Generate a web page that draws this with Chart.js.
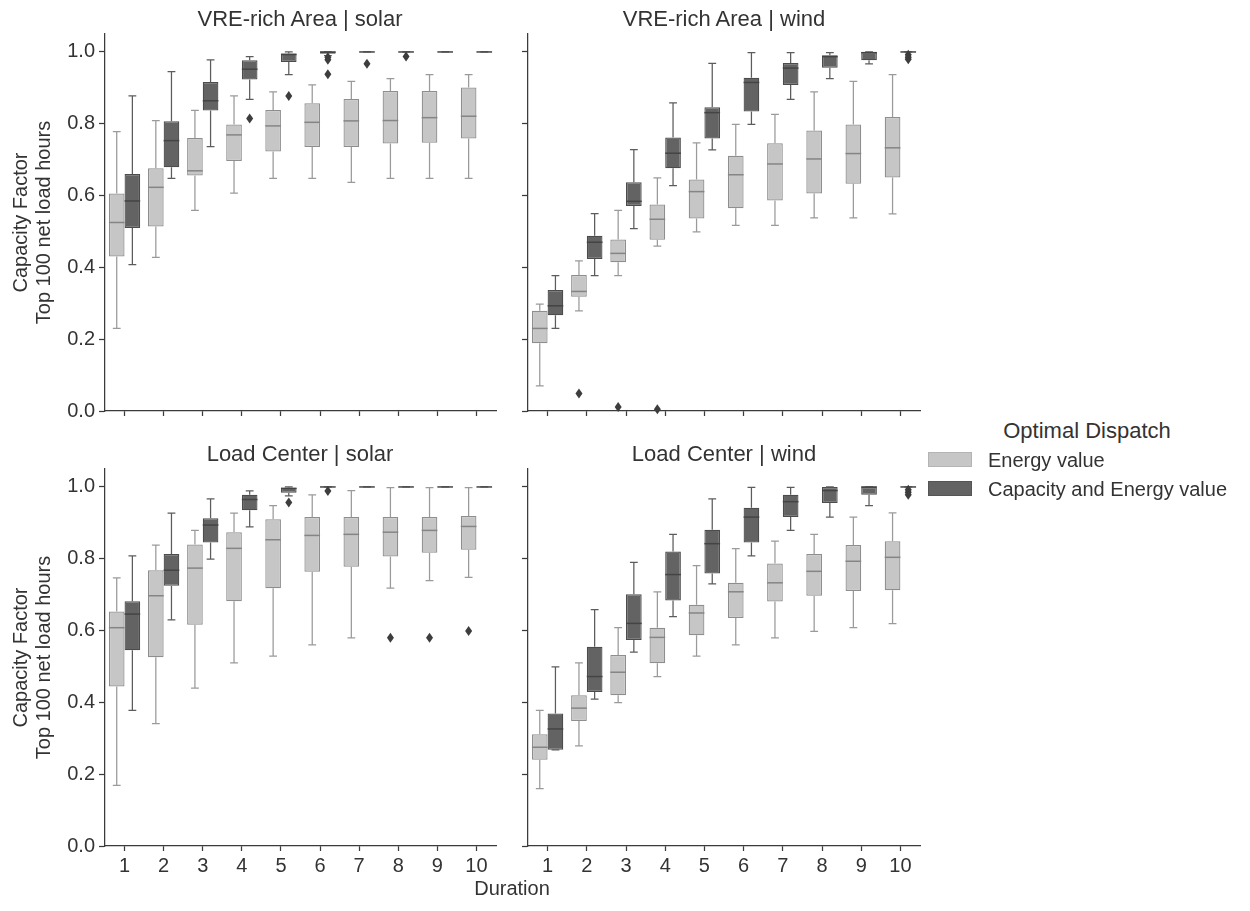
<!DOCTYPE html>
<html>
<head>
<meta charset="utf-8">
<script src="https://cdn.jsdelivr.net/npm/chart.js@4.4.0/dist/chart.umd.min.js"></script>
<style>
    body { margin: 0; background: #fff; width: 1250px; height: 911px; position: relative; overflow: hidden;
           font-family: "Liberation Sans", Arial, sans-serif; color: #333; }
    canvas { position: absolute; }
    .txt { position: absolute; white-space: nowrap; }
    .panel-title { font-size: 22px; line-height: 22px; transform: translateX(-50%); }
    .legend-title { font-size: 22px; line-height: 22px; left: 1087px; top: 420px; transform: translateX(-50%); }
    .legend-label { font-size: 20px; line-height: 20px; left: 988px; }
    .patch { position: absolute; left: 928px; width: 44px; height: 15px; box-sizing: border-box; }
</style>
</head>
<body>
<canvas id="vreSolar" width="505" height="441" style="left:0px;top:0px"></canvas>
<canvas id="vreWind" width="420" height="441" style="left:505px;top:0px"></canvas>
<canvas id="loadSolar" width="505" height="451" style="left:0px;top:435px"></canvas>
<canvas id="loadWind" width="420" height="451" style="left:505px;top:435px"></canvas>

<div class="txt panel-title" style="left:300px;top:8px">VRE-rich Area | solar</div>
<div class="txt panel-title" style="left:724px;top:8px">VRE-rich Area | wind</div>
<div class="txt panel-title" style="left:300px;top:443px">Load Center | solar</div>
<div class="txt panel-title" style="left:724px;top:443px">Load Center | wind</div>
<div class="txt" style="font-size:20px;line-height:20px;left:512px;top:878px;transform:translateX(-50%)">Duration</div>

<div class="txt legend-title">Optimal Dispatch</div>
<div class="patch" style="top:452px;background:#c6c6c6;border:1px solid #b4b4b4"></div>
<div class="txt legend-label" style="top:450px">Energy value</div>
<div class="patch" style="top:481px;background:#636363;border:1px solid #555"></div>
<div class="txt legend-label" style="top:479px">Capacity and Energy value</div>

<script>
// Categories and ticks
const durations = ['1', '2', '3', '4', '5', '6', '7', '8', '9', '10'];
const yTicks = [0, 0.2, 0.4, 0.6, 0.8, 1.0];

// Box stats per duration: [lower whisker, q1, median, q3, upper whisker]
const vreSolarEnergy = [
    [0.230, 0.430, 0.525, 0.606, 0.778], [0.428, 0.514, 0.623, 0.676, 0.809],
    [0.559, 0.656, 0.669, 0.760, 0.837], [0.607, 0.696, 0.769, 0.798, 0.878],
    [0.648, 0.723, 0.794, 0.838, 0.889], [0.648, 0.735, 0.804, 0.857, 0.908],
    [0.637, 0.735, 0.808, 0.869, 0.918], [0.648, 0.745, 0.809, 0.891, 0.926],
    [0.648, 0.747, 0.817, 0.891, 0.937], [0.648, 0.759, 0.821, 0.901, 0.937]
];
const vreSolarCapacity = [
    [0.408, 0.510, 0.585, 0.660, 0.878], [0.648, 0.679, 0.753, 0.807, 0.945],
    [0.736, 0.837, 0.864, 0.916, 0.978], [0.868, 0.923, 0.952, 0.977, 0.987],
    [0.937, 0.972, 0.993, 0.996, 1.000], [0.990, 0.995, 1.000, 1.000, 1.000],
    [1, 1, 1, 1, 1], [1, 1, 1, 1, 1], [1, 1, 1, 1, 1], [1, 1, 1, 1, 1]
];
const vreWindEnergy = [
    [0.070, 0.189, 0.230, 0.279, 0.298], [0.279, 0.318, 0.333, 0.379, 0.418],
    [0.377, 0.414, 0.439, 0.478, 0.559], [0.459, 0.477, 0.534, 0.575, 0.649],
    [0.499, 0.536, 0.611, 0.645, 0.747], [0.517, 0.565, 0.658, 0.711, 0.798],
    [0.517, 0.586, 0.688, 0.746, 0.826], [0.538, 0.606, 0.702, 0.781, 0.889],
    [0.538, 0.633, 0.717, 0.798, 0.918], [0.549, 0.650, 0.733, 0.819, 0.937]
];
const vreWindCapacity = [
    [0.230, 0.267, 0.293, 0.337, 0.377], [0.377, 0.423, 0.470, 0.488, 0.550],
    [0.508, 0.571, 0.584, 0.637, 0.728], [0.628, 0.676, 0.718, 0.762, 0.858],
    [0.727, 0.759, 0.831, 0.846, 0.968], [0.798, 0.834, 0.915, 0.928, 0.998],
    [0.868, 0.908, 0.955, 0.969, 0.998], [0.926, 0.956, 0.987, 0.991, 0.998],
    [0.967, 0.977, 0.998, 1.000, 1.000], [1, 1, 1, 1, 1]
];
const loadSolarEnergy = [
    [0.169, 0.444, 0.608, 0.653, 0.747], [0.341, 0.526, 0.697, 0.768, 0.838],
    [0.440, 0.616, 0.774, 0.840, 0.879], [0.510, 0.682, 0.829, 0.874, 0.927],
    [0.529, 0.718, 0.853, 0.910, 0.948], [0.560, 0.764, 0.865, 0.916, 0.978],
    [0.580, 0.778, 0.868, 0.916, 0.990], [0.718, 0.806, 0.874, 0.916, 0.998],
    [0.739, 0.817, 0.879, 0.916, 0.998], [0.748, 0.825, 0.890, 0.919, 0.998]
];
const loadSolarCapacity = [
    [0.378, 0.545, 0.646, 0.682, 0.808], [0.630, 0.725, 0.768, 0.813, 0.927],
    [0.799, 0.845, 0.894, 0.913, 0.967], [0.889, 0.935, 0.965, 0.978, 0.989],
    [0.975, 0.984, 0.996, 0.998, 1.000], [1, 1, 1, 1, 1],
    [1, 1, 1, 1, 1], [1, 1, 1, 1, 1], [1, 1, 1, 1, 1], [1, 1, 1, 1, 1]
];
const loadWindEnergy = [
    [0.160, 0.240, 0.275, 0.311, 0.378], [0.279, 0.348, 0.384, 0.420, 0.510],
    [0.399, 0.420, 0.484, 0.532, 0.608], [0.472, 0.509, 0.581, 0.608, 0.708],
    [0.529, 0.587, 0.649, 0.672, 0.781], [0.560, 0.635, 0.708, 0.733, 0.828],
    [0.580, 0.681, 0.733, 0.787, 0.849], [0.598, 0.697, 0.765, 0.813, 0.868],
    [0.608, 0.710, 0.793, 0.838, 0.916], [0.619, 0.712, 0.804, 0.849, 0.928]
];
const loadWindCapacity = [
    [0.268, 0.268, 0.326, 0.369, 0.499], [0.409, 0.429, 0.472, 0.555, 0.658],
    [0.540, 0.574, 0.620, 0.701, 0.790], [0.639, 0.684, 0.756, 0.820, 0.868],
    [0.730, 0.759, 0.842, 0.881, 0.967], [0.808, 0.845, 0.916, 0.942, 0.999],
    [0.879, 0.916, 0.959, 0.978, 0.999], [0.916, 0.955, 0.990, 1.000, 1.000],
    [0.948, 0.978, 1.000, 1.000, 1.000], [1, 1, 1, 1, 1]
];

// Outliers: [duration index, value]
const vreSolarEnergyOut = [];
const vreSolarCapacityOut = [[3, 0.815], [4, 0.877], [5, 0.985], [5, 0.978], [5, 0.938], [6, 0.967], [7, 0.987]];
const vreWindEnergyOut = [[1, 0.049], [2, 0.011], [3, 0.005]];
const vreWindCapacityOut = [[9, 0.992], [9, 0.985], [9, 0.980]];
const loadSolarEnergyOut = [[7, 0.580], [8, 0.580], [9, 0.599]];
const loadSolarCapacityOut = [[4, 0.957], [5, 0.989]];
const loadWindEnergyOut = [];
const loadWindCapacityOut = [[9, 0.992], [9, 0.985], [9, 0.978]];

// Styling
const FONT = '"Liberation Sans", Arial, sans-serif';
const AXIS_COLOR = '#3b3b3b';
const TEXT_COLOR = '#333';
const SERIES_STYLE = [
    { fill: '#c6c6c6', edge: '#8e8e8e', whisker: '#9a9a9a', median: '#858585' },
    { fill: '#636363', edge: '#4c4c4c', whisker: '#5c5c5c', median: '#444444' }
];

// Whiskers, caps, medians and outliers on top of the floating bars
const boxPlugin = {
    id: 'boxWhiskers',
    afterDatasetsDraw(chart) {
        const ctx = chart.ctx;
        const ys = chart.scales.y;
        chart.data.datasets.forEach((ds, i) => {
            const meta = chart.getDatasetMeta(i);
            const style = SERIES_STYLE[i];
            ctx.save();
            meta.data.forEach((bar, j) => {
                const [lo, q1, med, q3, hi] = ds.stats[j];
                const x = bar.x, w = bar.width;
                const yLo = ys.getPixelForValue(lo), yQ1 = ys.getPixelForValue(q1);
                const yMed = ys.getPixelForValue(med), yQ3 = ys.getPixelForValue(q3);
                const yHi = ys.getPixelForValue(hi);

                ctx.strokeStyle = style.whisker;
                ctx.lineWidth = 1.25;
                ctx.beginPath();
                ctx.moveTo(x, yQ3); ctx.lineTo(x, yHi);
                ctx.moveTo(x, yQ1); ctx.lineTo(x, yLo);
                ctx.moveTo(x - w / 4, yHi); ctx.lineTo(x + w / 4, yHi);
                ctx.moveTo(x - w / 4, yLo); ctx.lineTo(x + w / 4, yLo);
                ctx.stroke();

                ctx.strokeStyle = style.median;
                ctx.lineWidth = 1.5;
                ctx.beginPath();
                ctx.moveTo(x - w / 2, yMed); ctx.lineTo(x + w / 2, yMed);
                ctx.stroke();
            });

            ctx.fillStyle = '#3d3d3d';
            ds.outliers.forEach(([j, v]) => {
                const x = meta.data[j].x;
                const y = ys.getPixelForValue(v);
                ctx.beginPath();
                ctx.moveTo(x, y - 5);
                ctx.lineTo(x + 3.5, y);
                ctx.lineTo(x, y + 5);
                ctx.lineTo(x - 3.5, y);
                ctx.closePath();
                ctx.fill();
            });
            ctx.restore();
        });
    }
};

function makeDataset(label, stats, outliers, idx) {
    const style = SERIES_STYLE[idx];
    return {
        label: label,
        data: stats.map(s => [s[1], s[3]]),
        stats: stats,
        outliers: outliers,
        backgroundColor: style.fill,
        borderColor: style.edge,
        borderWidth: 1.25,
        borderSkipped: false,
        categoryPercentage: 0.8,
        barPercentage: 1.0
    };
}

function makeChart(id, energy, capacity, energyOut, capacityOut, isBottom, isLeft) {
    const ctx = document.getElementById(id).getContext('2d');
    return new Chart(ctx, {
        type: 'bar',
        data: {
            labels: durations,
            datasets: [
                makeDataset('Energy value', energy, energyOut, 0),
                makeDataset('Capacity and Energy value', capacity, capacityOut, 1)
            ]
        },
        options: {
            responsive: false,
            animation: false,
            layout: { padding: { left: 0, right: isLeft ? 9 : 5, top: 34, bottom: 0 } },
            plugins: { legend: { display: false }, tooltip: { enabled: false } },
            scales: {
                x: {
                    type: 'category',
                    offset: true,
                    afterFit: s => { s.height = isBottom ? 40 : 30; },
                    ticks: { display: isBottom, color: TEXT_COLOR, padding: 3, font: { family: FONT, size: 20 } },
                    grid: { offset: false, drawOnChartArea: false, drawTicks: true, tickLength: 5, tickColor: AXIS_COLOR, tickWidth: 1.25 },
                    border: { display: true, color: AXIS_COLOR, width: 1.25 }
                },
                y: {
                    min: 0,
                    max: 1.05,
                    afterBuildTicks: s => { s.ticks = yTicks.map(v => ({ value: v })); },
                    afterFit: s => { s.width = isLeft ? 105 : 23; },
                    ticks: {
                        display: isLeft,
                        color: TEXT_COLOR,
                        padding: 4,
                        font: { family: FONT, size: 20 },
                        callback: v => Number(v).toFixed(1)
                    },
                    title: {
                        display: isLeft,
                        text: ['Capacity Factor', 'Top 100 net load hours'],
                        color: TEXT_COLOR,
                        font: { family: FONT, size: 20, lineHeight: 1.15 },
                        padding: { top: 10, bottom: 0 }
                    },
                    grid: { drawOnChartArea: false, drawTicks: true, tickLength: 6, tickColor: AXIS_COLOR, tickWidth: 1.25 },
                    border: { display: true, color: AXIS_COLOR, width: 1.25 }
                }
            }
        },
        plugins: [boxPlugin]
    });
}

makeChart('vreSolar', vreSolarEnergy, vreSolarCapacity, vreSolarEnergyOut, vreSolarCapacityOut, false, true);
makeChart('vreWind', vreWindEnergy, vreWindCapacity, vreWindEnergyOut, vreWindCapacityOut, false, false);
makeChart('loadSolar', loadSolarEnergy, loadSolarCapacity, loadSolarEnergyOut, loadSolarCapacityOut, true, true);
makeChart('loadWind', loadWindEnergy, loadWindCapacity, loadWindEnergyOut, loadWindCapacityOut, true, false);
</script>
</body>
</html>
